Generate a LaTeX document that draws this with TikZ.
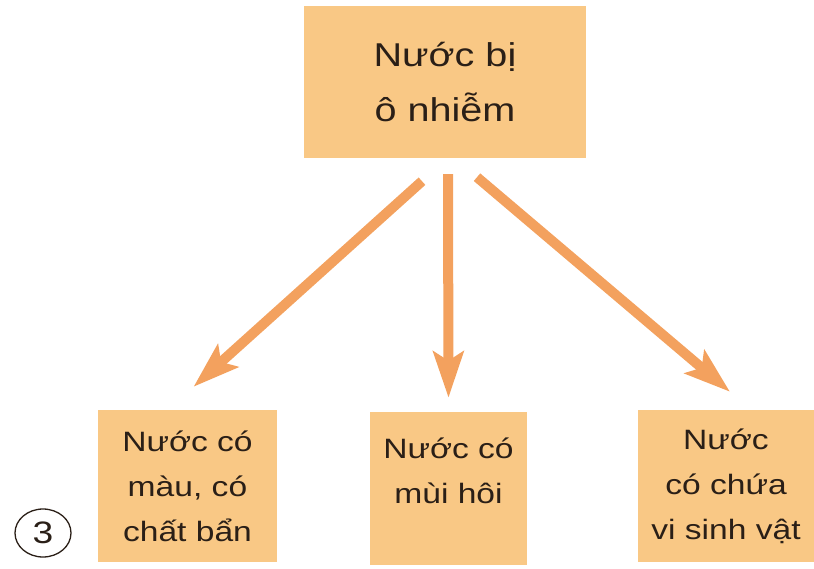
\documentclass[tikz,border=0pt]{standalone}
\usepackage{fontspec}
\setmainfont[FakeStretch=1.2]{Liberation Sans}
\usepackage{tikz}
\usetikzlibrary{arrows.meta,positioning,shapes.geometric}
\definecolor{BoxOrange}{HTML}{F9C885}
\definecolor{ArrowOrange}{HTML}{F3A15E}
\definecolor{InkBrown}{HTML}{2A1F17}

\begin{document}
\begin{tikzpicture}[x=1pt,y=-1pt,
  box/.style={rectangle,fill=BoxOrange,draw=none,align=center,text=InkBrown,
    inner sep=0pt,font=\fontsize{28}{45}\selectfont},
  arr/.style={-{Stealth[length=46pt,width=30pt,inset=9pt]},line width=10pt,draw=ArrowOrange}]
  \useasboundingbox (0,0) rectangle (814,568);
  % top box and the three kinds of polluted water
  \node[box,minimum width=282pt,minimum height=152pt,font=\fontsize{33}{55}\selectfont]
    (source) at (445,82) {Nước bị\\ô nhiễm};
  \node[box,minimum width=179pt,minimum height=152pt] (colour) at (187.5,486)
    {Nước có\\màu, có\\chất bẩn};
  \node[box,minimum width=157pt,minimum height=153pt] (smell) at (448.5,488.5)
    {Nước có\\mùi hôi\\[-22pt]\strut};
  \node[box,minimum width=176pt,minimum height=152pt] (microbe) at (726,486)
    {Nước\\có chứa\\vi sinh vật};
  \node[ellipse,draw=InkBrown,line width=1.3pt,minimum width=56pt,minimum height=48pt,
    inner sep=0pt,font=\fontsize{31}{31}\selectfont,text=InkBrown] (badge) at (43,533) {3};
  \draw[arr] ([xshift=-23pt,yshift=-23pt]source.south) -- ([xshift=6pt,yshift=23pt]colour.north);
  \draw[arr] ([xshift=3pt,yshift=-16pt]source.south) -- ([yshift=14pt]smell.north);
  \draw[arr] ([xshift=32pt,yshift=-19pt]source.south) -- ([xshift=4pt,yshift=18pt]microbe.north);
\end{tikzpicture}
\end{document}
